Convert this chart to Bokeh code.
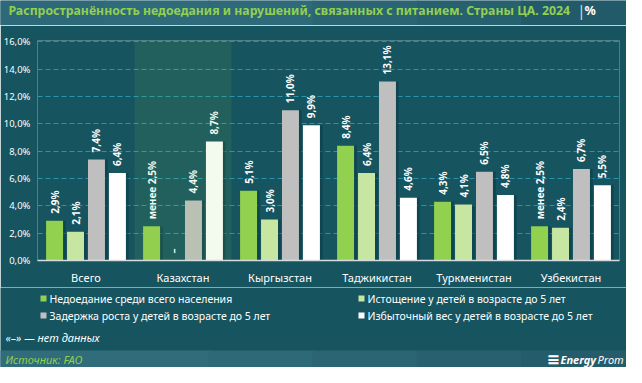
import math
from bokeh.plotting import figure
from bokeh.layouts import column
from bokeh.models import ColumnDataSource, Range1d, FactorRange, Label, BoxAnnotation, FixedTicker
from bokeh.transform import dodge
from bokeh.core.properties import value
from bokeh.embed import file_html
from bokeh.resources import INLINE

# ---------------- data ----------------
categories = ["Всего", "Казахстан", "Кыргызстан", "Таджикистан", "Туркменистан", "Узбекистан"]
series_names = [
    "Недоедание среди всего населения",
    "Истощение у детей в возрасте до 5 лет",
    "Задержка роста у детей в возрасте до 5 лет",
    "Избыточный вес у детей в возрасте до 5 лет",
]
undernourishment = [2.9, 2.5, 5.1, 8.4, 4.3, 2.5]
undernourishment_less_than = [False, True, False, False, False, True]
wasting = [2.1, None, 3.0, 6.4, 4.1, 2.4]
stunting = [7.4, 4.4, 11.0, 13.1, 6.5, 6.7]
overweight = [6.4, 8.7, 9.9, 4.6, 4.8, 5.5]
y_ticks = [0, 2, 4, 6, 8, 10, 12, 14, 16]
y_tick_labels = ["0,0%", "2,0%", "4,0%", "6,0%", "8,0%", "10,0%", "12,0%", "14,0%", "16,0%"]
highlight_category = "Казахстан"

title_text = "Распространённость недоедания и нарушений, связанных с питанием. Страны ЦА. 2024"
unit_text = "%"
note_text = "«–» — нет данных"
source_text = "Источник: FAO"

# ---------------- style ----------------
FONT = "Noto Sans"
BG = "#16545f"
colors = ["#92d050", "#c6e6a2", "#bfbfbf", "#ffffff"]
offsets = [-0.324, -0.108, 0.108, 0.324]
BAR_W = 0.175
W = 626
H_TOP, H_MAIN, H_BOT = 25, 262, 80


def blank_fig(h, fill):
    f = figure(width=W, height=h, x_range=Range1d(0, W), y_range=Range1d(h, 0),
               output_backend="svg", toolbar_location=None, frame_align=False,
               min_border=0, min_border_left=0, min_border_right=0,
               min_border_top=0, min_border_bottom=0)
    f.axis.visible = False
    f.grid.visible = False
    f.background_fill_color = fill
    f.border_fill_color = fill
    f.outline_line_color = None
    return f


def add_label(f, text, x, y, color="#ffffff", size="11px", style="normal", font=FONT):
    f.add_layout(Label(x=x, y=y, text=text, text_color=color, text_font=font,
                       text_font_size=size, text_font_style=style,
                       text_align="left", text_baseline="middle"))


def add_gradient(f, y0, y1, cols):
    n = len(cols)
    for k, c in enumerate(cols):
        f.add_layout(BoxAnnotation(left=W * k / n - 1, right=W * (k + 1) / n + 1,
                                   top=y0, bottom=y1, fill_color=c, fill_alpha=1,
                                   line_color=None, level="underlay"))

# ---------------- top (title bar) ----------------
top = blank_fig(H_TOP, "#2c6676")
add_gradient(top, 0, H_TOP, ["#2e6979", "#2f6b7a", "#2e6a79", "#2b6574", "#27606f", "#235a6a"])
add_label(top, title_text, 8, 10, color="#92d050", size="12.3px", style="bold")
add_label(top, "|", 577, 10, color="#d8e2e4", size="14px")
add_label(top, unit_text, 584, 10, color="#ffffff", size="12.5px", style="bold")

# ---------------- main chart ----------------
p = figure(width=W, height=H_MAIN, x_range=FactorRange(*categories, range_padding=0),
           y_range=Range1d(0, 16.1), output_backend="svg", toolbar_location=None,
           frame_align=False,
           min_border_left=37, min_border_right=7, min_border_top=15, min_border_bottom=27)
p.background_fill_color = BG
p.border_fill_color = BG
p.outline_line_color = None

p.yaxis.ticker = FixedTicker(ticks=y_ticks)
p.yaxis.major_label_overrides = {t: l for t, l in zip(y_ticks, y_tick_labels)}
p.yaxis.axis_line_color = None
p.yaxis.major_tick_line_color = None
p.yaxis.minor_tick_line_color = None
p.yaxis.major_tick_out = 0
p.yaxis.major_tick_in = 0
p.yaxis.minor_tick_out = 0
p.yaxis.major_label_text_color = "#ffffff"
p.yaxis.major_label_text_font = FONT
p.yaxis.major_label_text_font_size = "9.5px"
p.yaxis.major_label_standoff = 7

p.xaxis.axis_line_color = "#d5dcdc"
p.xaxis.axis_line_width = 1.5
p.xaxis.major_tick_line_color = None
p.xaxis.minor_tick_line_color = None
p.xaxis.major_tick_out = 0
p.xaxis.major_tick_in = 0
p.xaxis.minor_tick_out = 0
p.xaxis.major_label_text_color = "#ffffff"
p.xaxis.major_label_text_font = FONT
p.xaxis.major_label_text_font_size = "11px"
p.xaxis.major_label_standoff = 9

p.xgrid.grid_line_color = None
p.ygrid.grid_line_color = "#2893aa"
p.ygrid.grid_line_dash = "5 3"
p.ygrid.grid_line_width = 1

series_values = [undernourishment, wasting, stunting, overweight]


def fmt(v):
    return ("%.1f" % v).replace(".", ",") + "%"


for i, (vals, col, off) in enumerate(zip(series_values, colors, offsets)):
    tops = [float("nan") if v is None else v for v in vals]
    labels, ly = [], []
    for j, v in enumerate(vals):
        if v is None:
            labels.append("–")
            ly.append(0)
        else:
            t = fmt(v)
            if i == 0 and undernourishment_less_than[j]:
                t = "менее " + t
            labels.append(t)
            ly.append(v)
    src = ColumnDataSource(dict(cat=categories, top=tops, ly=ly, lbl=labels))
    p.vbar(x=dodge("cat", off + 0.028, range=p.x_range), top="top", width=BAR_W, source=src,
           fill_color="#0a3943", fill_alpha=0.55, line_color=None)
    p.vbar(x=dodge("cat", off, range=p.x_range), top="top", width=BAR_W, source=src,
           fill_color=col, line_color=None)
    p.text(x=dodge("cat", off, range=p.x_range), y="ly", text="lbl", source=src,
           angle=math.pi / 2, text_align="left", text_baseline="middle", y_offset=-7,
           text_font=value(FONT), text_font_size="10px", text_font_style="bold",
           text_color="#ffffff")

hsrc = ColumnDataSource(dict(cat=[highlight_category], top=[16.1]))
p.vbar(x="cat", top="top", width=1.0, source=hsrc, fill_color="#92d050", fill_alpha=0.1,
       line_color=None)

# ---------------- bottom (legend + footer) ----------------
bot = blank_fig(H_BOT, BG)
Y0 = 287  # figure-block y of this block's top
leg_pos = [(40, 298), (358, 298), (40, 315), (358, 315)]
for (lx, lyy), name, col in zip(leg_pos, series_names, colors):
    bot.add_layout(BoxAnnotation(left=lx, right=lx + 6, top=lyy - 3 - Y0, bottom=lyy + 3 - Y0,
                                 fill_color=col, fill_alpha=1, line_color=None))
    add_label(bot, name, lx + 9, lyy - Y0, size="10.5px")

add_label(bot, note_text, 5, 337 - Y0, size="11px", style="italic")
add_gradient(bot, 350 - Y0, H_BOT, ["#306c7a", "#306c7a", "#2e6977", "#2b6473", "#28606f", "#255c6b"])
add_label(bot, source_text, 5, 358.5 - Y0, color="#92d050", size="11px", style="italic")
add_label(bot, "≡", 546, 358.5 - Y0, size="16px", style="bold italic", font="DejaVu Sans")
add_label(bot, "Energy", 560, 358.5 - Y0, size="11px", style="bold italic")
add_label(bot, "Prom", 597, 358.5 - Y0, size="11px", style="italic")

layout = column(top, p, bot, spacing=0)
open("out.html", "w").write(file_html(layout, INLINE))
